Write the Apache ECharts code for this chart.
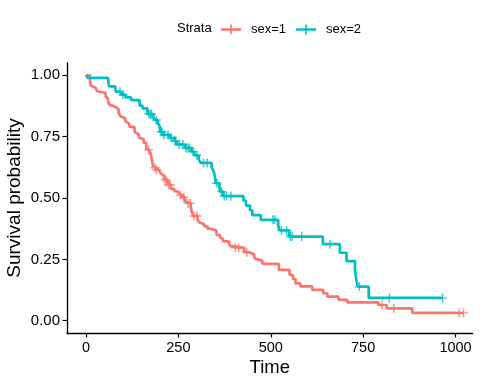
<!DOCTYPE html>
<html>
<head>
<meta charset="utf-8">
<script src="https://cdn.jsdelivr.net/npm/echarts@6/dist/echarts.min.js"></script>
<style>html,body{margin:0;padding:0;background:#fff}#c{width:480px;height:384px}</style>
</head>
<body>
<div id="c"></div>
<script>
const strata = ['sex=1', 'sex=2'];
const colors = ['#F8766D', '#00BFC4'];
const xTicks = [0, 250, 500, 750, 1000];
const yTicks = [0, 0.25, 0.5, 0.75, 1];
const maxTime = [1022, 965];
// [time, survival after event]
const steps1 = [[11,0.978],[12,0.971],[13,0.957],[15,0.949],[26,0.942],[30,0.935],[31,0.928],[53,0.913],[54,0.906],[59,0.899],[60,0.891],[65,0.877],[71,0.870],[81,0.862],[88,0.848],[92,0.841],[93,0.833],[95,0.826],[105,0.819],[107,0.812],[110,0.804],[116,0.797],[118,0.790],[131,0.783],[132,0.768],[135,0.761],[142,0.754],[144,0.746],[147,0.739],[156,0.725],[163,0.703],[166,0.696],[170,0.688],[175,0.681],[176,0.674],[177,0.666],[179,0.652],[180,0.645],[181,0.630],[183,0.623],[189,0.615],[197,0.608],[202,0.600],[207,0.592],[210,0.584],[212,0.576],[218,0.569],[222,0.561],[223,0.553],[229,0.545],[230,0.537],[239,0.528],[246,0.520],[252,0.512],[259,0.503],[267,0.495],[269,0.486],[270,0.478],[283,0.470],[284,0.461],[285,0.453],[286,0.444],[288,0.436],[291,0.427],[301,0.419],[303,0.410],[306,0.401],[310,0.393],[320,0.384],[329,0.375],[337,0.367],[353,0.349],[363,0.340],[364,0.332],[371,0.323],[387,0.314],[390,0.305],[394,0.297],[428,0.288],[429,0.279],[442,0.271],[455,0.262],[457,0.253],[460,0.245],[477,0.232],[522,0.207],[551,0.187],[560,0.170],[567,0.152],[580,0.140],[612,0.126],[642,0.112],[653,0.098],[683,0.085],[707,0.075],[791,0.064],[814,0.050],[883,0.032]];
const steps2 = [[5,0.989],[60,0.978],[61,0.966],[62,0.955],[79,0.944],[81,0.933],[95,0.921],[107,0.910],[122,0.899],[145,0.876],[153,0.865],[166,0.854],[167,0.842],[182,0.830],[186,0.818],[194,0.806],[199,0.794],[201,0.770],[208,0.757],[226,0.745],[239,0.732],[245,0.718],[268,0.704],[285,0.689],[293,0.674],[305,0.658],[310,0.643],[340,0.626],[345,0.610],[348,0.593],[350,0.577],[351,0.560],[361,0.543],[363,0.526],[371,0.508],[426,0.489],[433,0.469],[444,0.450],[450,0.430],[473,0.411],[520,0.389],[524,0.368],[550,0.343],[641,0.312],[687,0.277],[705,0.243],[728,0.208],[731,0.173],[735,0.139],[765,0.093]];
const censor1 = [169,187,191,214,218,223,228,255,264,276,282,292,300,404,413,435,801,833,1010,1022];
const censor2 = [92,100,170,174,177,190,203,206,211,222,230,241,243,252,262,271,276,280,290,300,318,328,354,367,374,380,392,506,511,529,543,553,558,584,660,740,821,965];

function curve(steps, tmax) {
  const d = [[0, 1]];
  steps.forEach(s => d.push([s[0], s[1]]));
  d.push([tmax, steps[steps.length - 1][1]]);
  return d;
}
function survAt(steps, t) {
  let s = 1;
  for (const p of steps) { if (p[0] <= t) s = p[1]; else break; }
  return s;
}
const crossPath = 'path://M0,4.2L10,4.2L10,5.8L0,5.8Z M4.2,0L5.8,0L5.8,10L4.2,10Z';
const legendPath = 'path://M0,3.7L20,3.7L20,6.3L0,6.3Z M9.2,0L10.8,0L10.8,10L9.2,10Z';
const allSteps = [steps1, steps2];
const allCensor = [censor1, censor2];
const series = [];
strata.forEach((name, i) => {
  series.push({
    name: name, type: 'line', step: 'end', showSymbol: false, symbol: 'none',
    lineStyle: { color: colors[i], width: 2.7 }, itemStyle: { color: colors[i] },
    data: curve(allSteps[i], maxTime[i]), z: 2
  });
  series.push({
    name: name, type: 'scatter', symbol: crossPath, symbolSize: 9,
    itemStyle: { color: colors[i] },
    data: allCensor[i].map(t => [t, survAt(allSteps[i], t)]), z: 3
  });
});

const font = 'Liberation Sans, Arial, sans-serif';
const chart = echarts.init(document.getElementById('c'), null, { renderer: 'canvas' });
chart.setOption({
  animation: false,
  backgroundColor: '#fff',
  textStyle: { fontFamily: font },
  grid: { left: 67, right: 7.5, top: 63, bottom: 51, containLabel: false, outerBoundsMode: 'none' },
  graphic: [{ type: 'text', left: 177, top: 21.5, style: { text: 'Strata', font: '13px ' + font, fill: '#000' } }],
  legend: {
    left: 221, top: 23, padding: 0, itemWidth: 20, itemHeight: 10, itemGap: 10,
    textStyle: { fontSize: 13, color: '#000', fontFamily: font, padding: [0, 0, 0, 5] },
    data: strata.map((n, i) => ({ name: n, icon: legendPath, itemStyle: { color: colors[i] } }))
  },
  xAxis: {
    type: 'value', min: -51.5, max: 1046,
    name: 'Time', nameLocation: 'middle', nameGap: 25.5, nameMoveOverlap: false,
    nameTextStyle: { fontSize: 18.5, color: '#000', fontFamily: font, verticalAlign: 'top' },
    axisLine: { show: true, onZero: false, lineStyle: { color: '#000', width: 1.3 } },
    axisTick: { show: true, length: 4.5, lineStyle: { color: '#000', width: 1.2 }, customValues: xTicks },
    axisLabel: { fontSize: 14.5, color: '#000', margin: 7, customValues: xTicks, formatter: v => String(v) },
    splitLine: { show: false }
  },
  yAxis: {
    type: 'value', min: -0.05, max: 1.05,
    name: 'Survival probability', nameLocation: 'middle', nameGap: 43, nameRotate: 90, nameMoveOverlap: false,
    nameTextStyle: { fontSize: 19, color: '#000', fontFamily: font },
    axisLine: { show: true, onZero: false, lineStyle: { color: '#000', width: 1.3 } },
    axisTick: { show: true, length: 4.5, lineStyle: { color: '#000', width: 1.2 }, customValues: yTicks },
    axisLabel: { fontSize: 15, color: '#000', margin: 7, customValues: yTicks, formatter: v => v.toFixed(2) },
    splitLine: { show: false }
  },
  series: series
});
</script>
</body>
</html>
